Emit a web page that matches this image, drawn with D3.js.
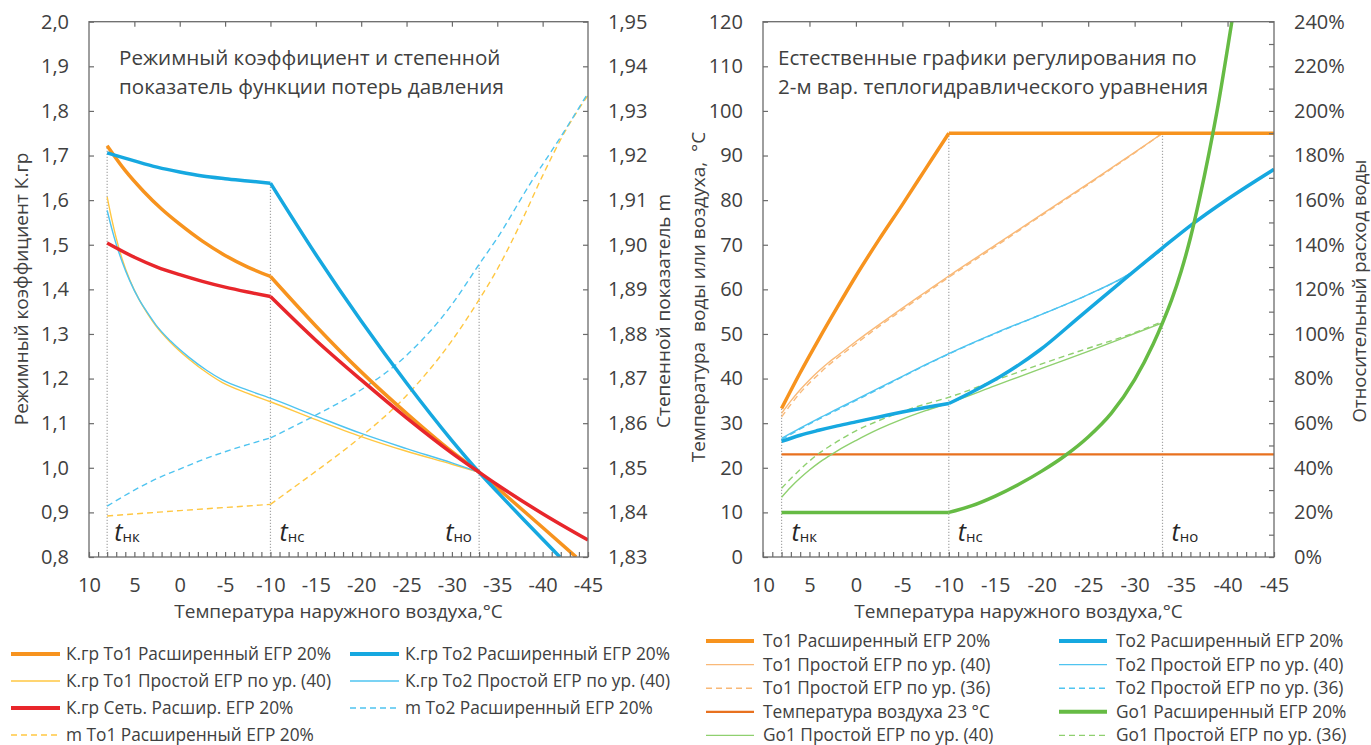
<!DOCTYPE html>
<html>
<head>
<meta charset="utf-8">
<script src="https://cdn.jsdelivr.net/npm/d3@7"></script>
<style>
    body { margin: 0; background: #fff; }
    text { font-family: "Open Sans", sans-serif; fill: #404040; }
</style>
</head>
<body>
<svg id="chart" width="1371" height="745"></svg>
<script>
// ---------- data: [наружная температура, значение] ----------
// левый график — режимный коэффициент К.гр (левая ось) и показатель m (правая ось)
const kgrTo1Ext = [[8, 1.722], [6, 1.666], [4, 1.620], [2, 1.580], [0, 1.546], [-2.5, 1.508], [-5, 1.476], [-7.5, 1.450], [-10, 1.429],
    [-15, 1.318], [-20, 1.215], [-25, 1.122], [-30, 1.036], [-33, 0.990], [-35, 0.955], [-40, 0.866], [-43.7, 0.800]]
const kgrTo2Ext = [[8, 1.706], [5, 1.688], [2.5, 1.674], [0, 1.663], [-2.5, 1.654], [-5, 1.648], [-7.5, 1.643], [-10, 1.638],
    [-15, 1.478], [-20, 1.329], [-25, 1.190], [-30, 1.061], [-33, 0.990], [-35, 0.946], [-38, 0.882], [-41.9, 0.800]]
const kgrTo1Simple = [[8, 1.607], [7.5, 1.558], [7, 1.515], [6.33, 1.467], [5.5, 1.421], [4.5, 1.378], [3.5, 1.344], [2.65, 1.319],
    [1, 1.281], [-1, 1.244], [-3, 1.213], [-4.7, 1.191], [-7.5, 1.167], [-10, 1.148], [-15, 1.108], [-20, 1.070], [-25, 1.037], [-30, 1.008], [-33, 0.990]]
const kgrTo2Simple = [[8, 1.577], [7.5, 1.537], [7, 1.501], [6.33, 1.461], [5.5, 1.419], [4.5, 1.378], [3.5, 1.346], [2.65, 1.321],
    [1, 1.284], [-1, 1.248], [-3, 1.218], [-4.7, 1.197], [-7.5, 1.174], [-10, 1.156], [-15, 1.116], [-20, 1.077], [-25, 1.043], [-30, 1.011], [-33, 0.990]]
const kgrNetExt = [[8, 1.504], [5, 1.472], [2.5, 1.450], [0, 1.433], [-2.5, 1.418], [-5, 1.405], [-7.5, 1.394], [-10, 1.384],
    [-15, 1.286], [-20, 1.197], [-25, 1.112], [-30, 1.033], [-33, 0.990], [-35, 0.962], [-40, 0.897], [-45, 0.838]]
const mTo2Ext = [[8, 1.8414], [5, 1.8450], [2.5, 1.8476], [0, 1.8497], [-2.5, 1.8518], [-5, 1.8536], [-7.5, 1.8552], [-10, 1.8567],
    [-15, 1.8618], [-20, 1.8675], [-25, 1.8752], [-30, 1.8866], [-33, 1.8956], [-35, 1.9015], [-38.6, 1.9136], [-42, 1.9242], [-45, 1.9340]]
const mTo1Ext = [[8, 1.8392], [4, 1.8398], [0, 1.8404], [-5, 1.8411], [-10, 1.8418],
    [-12.5, 1.8455], [-15, 1.8492], [-20, 1.8570], [-25, 1.8662], [-30, 1.8785], [-33, 1.8877], [-35, 1.8945], [-37.5, 1.9045], [-40, 1.9155], [-42.5, 1.9255], [-45, 1.9335]]

// правый график — температуры (левая ось, °C) и относительный расход (правая ось, %)
const to1Ext = [[8, 33.3], [6, 41.3], [4, 48.8], [2, 56.0], [0, 63.0], [-2.5, 71.2], [-5, 79.0], [-7.5, 87.0], [-10, 95.0], [-45, 95.0]]
const to1Simple40 = [[8, 32.2], [7, 35.0], [6, 37.5], [5, 39.7], [4, 41.7], [3, 43.5], [2, 45.1], [0, 48.3], [-2.5, 52.1], [-5, 55.8],
    [-7.5, 59.4], [-10, 63.0], [-15, 69.9], [-20, 76.8], [-25, 83.7], [-30, 90.7], [-33, 95.0]]
const to1Simple36 = [[8, 31.4], [7, 34.2], [6, 36.8], [5, 39.0], [4, 41.0], [3, 42.9], [2, 44.6], [0, 47.8], [-2.5, 51.7], [-5, 55.4],
    [-7.5, 59.1], [-10, 62.7], [-15, 69.6], [-20, 76.6], [-25, 83.5], [-30, 90.6], [-33, 95.0]]
const airTemp = [[8, 23], [-45, 23]]
const to2Ext = [[8, 25.9], [6, 27.3], [4, 28.4], [2, 29.4], [0, 30.3], [-2.5, 31.4], [-5, 32.5], [-7.5, 33.5], [-10, 34.4],
    [-12.5, 37.0], [-15.5, 40.4], [-19.8, 46.4], [-24.1, 53.9], [-28.4, 61.4], [-33, 69.3], [-36.4, 74.9], [-40, 80.2], [-45, 86.9]]
const to2Simple40 = [[8, 26.6], [6, 28.9], [4, 31.1], [2, 33.2], [0, 35.3], [-2.5, 37.9], [-5, 40.5], [-7.5, 43.1], [-10, 45.6],
    [-15, 50.2], [-20, 54.4], [-25, 58.8], [-30, 64.2], [-33, 69.0]]
const to2Simple36 = [[8, 26.3], [6, 28.7], [4, 30.9], [2, 33.0], [0, 35.1], [-2.5, 37.7], [-5, 40.4], [-7.5, 43.0], [-10, 45.5],
    [-15, 50.1], [-20, 54.4], [-25, 58.8], [-30, 64.2], [-33, 69.0]]
const go1Ext = [[8, 20], [-10, 20], [-12.5, 23], [-15, 27.3], [-17.5, 32.5], [-20, 38.5], [-22.5, 45.4], [-25, 53.8], [-27.5, 64.5],
    [-30, 79.5], [-32, 95.5], [-33, 105], [-34, 115.5], [-35, 128], [-36, 143], [-37, 161], [-38, 181], [-39, 203], [-40, 228], [-40.5, 241]]
const go1Simple40 = [[8, 26.8], [7, 31.4], [6, 35.4], [5, 39.0], [4, 42.2], [3, 45.0], [2, 47.6], [0, 52.2], [-2.5, 57.4], [-5, 61.8],
    [-7.5, 65.6], [-10, 69.0], [-15, 76.8], [-20, 84.6], [-25, 92.2], [-30, 100.2], [-33, 105.0]]
const go1Simple36 = [[8, 30.8], [7, 35.2], [6, 39.2], [5, 43.0], [4, 46.4], [3, 49.2], [2, 51.8], [0, 56.6], [-2.5, 61.2], [-5, 65.2],
    [-7.5, 68.6], [-10, 71.6], [-15, 79.2], [-20, 86.6], [-25, 93.6], [-30, 100.6], [-33, 105.6]]

// характерные температуры: t_нк, t_нс, t_но
const keyTemps = [8, -10, -33]
const keyLabels = ['нк', 'нс', 'но']
const xTickLabels = d3.range(10, -46, -5)

const svg = d3.select('#chart')

// разбиваем линию на участки в точках излома, чтобы сглаживание не скругляло изломы
function splitAt(points, breaks) {
    const segs = [[]]
    points.forEach(p => {
        segs[segs.length - 1].push(p)
        if (breaks.includes(p[0])) segs.push([p])
    })
    return segs.filter(s => s.length > 1)
}

function drawPanel(cfg) {
    const g = svg.append('g')

    const x = d3.scaleLinear().domain([10, -45]).range([cfg.left, cfg.right])
    const yL = d3.scaleLinear().domain(cfg.yLeft).range([cfg.bottom, cfg.top])
    const yR = d3.scaleLinear().domain(cfg.yRight).range([cfg.bottom, cfg.top])

    g.append('clipPath').attr('id', cfg.id + '-clip')
        .append('rect')
        .attr('x', cfg.left).attr('y', cfg.top)
        .attr('width', cfg.right - cfg.left).attr('height', cfg.bottom - cfg.top)

    // пунктирные вертикали t_нк, t_нс, t_но
    g.selectAll('.vline')
        .data(keyTemps)
        .join('line')
        .attr('class', 'vline')
        .attr('x1', d => x(d)).attr('x2', d => x(d))
        .attr('y1', cfg.bottom)
        .attr('y2', (d, i) => yL(cfg.vlineTops[i]))
        .attr('stroke', '#a6a6a6')
        .attr('stroke-width', 1.2)
        .attr('stroke-dasharray', '1.2,1.8')

    // линии
    const plot = g.append('g').attr('clip-path', `url(#${cfg.id}-clip)`)
    cfg.series.forEach(s => {
        const y = s.axis === 'R' ? yR : yL
        const line = d3.line()
            .x(d => x(d[0]))
            .y(d => y(d[1]))
            .curve(d3.curveMonotoneX)
        plot.selectAll(null)
            .data(splitAt(s.data, s.breaks || []))
            .join('path')
            .attr('d', line)
            .attr('fill', 'none')
            .attr('stroke', s.color)
            .attr('stroke-width', s.width)
            .attr('stroke-dasharray', s.dash || null)
            .attr('stroke-linejoin', 'round')
    })

    // подписи t с индексами
    const tl = g.selectAll('.tlabel')
        .data(keyTemps)
        .join('text')
        .attr('class', 'tlabel')
        .attr('x', (d, i) => x(d) + cfg.tLabelDx[i])
        .attr('y', 541)
    tl.append('tspan')
        .attr('font-style', 'italic')
        .attr('font-size', 25)
        .attr('fill', '#262626')
        .text('t')
    tl.append('tspan')
        .attr('font-size', 15)
        .attr('fill', '#262626')
        .attr('dy', 1)
        .text((d, i) => keyLabels[i])

    // рамка
    g.append('rect')
        .attr('x', cfg.left).attr('y', cfg.top)
        .attr('width', cfg.right - cfg.left).attr('height', cfg.bottom - cfg.top)
        .attr('fill', 'none')
        .attr('stroke', '#6b6b6b')
        .attr('stroke-width', 1.3)

    // оси
    const xAxis = g.append('g')
        .attr('transform', `translate(0,${cfg.bottom})`)
        .call(d3.axisBottom(x)
            .tickValues(d3.range(10, -46, -1))
            .tickSize(-5).tickSizeOuter(0).tickPadding(21)
            .tickFormat(d => xTickLabels.includes(d) ? String(d) : ''))
    const xTop = g.append('g')
        .attr('transform', `translate(0,${cfg.top})`)
        .call(d3.axisTop(x)
            .tickValues(xTickLabels.slice(1, -1))
            .tickSize(-5).tickSizeOuter(0)
            .tickFormat(''))
    const yAxisL = g.append('g')
        .attr('transform', `translate(${cfg.left},0)`)
        .call(d3.axisLeft(yL)
            .tickValues(cfg.yLeftTicks)
            .tickSize(-5).tickSizeOuter(0).tickPadding(20)
            .tickFormat(cfg.yLeftFormat))
    const yAxisR = g.append('g')
        .attr('transform', `translate(${cfg.right},0)`)
        .call(d3.axisRight(yR)
            .tickValues(cfg.yRightTicks)
            .tickSize(-5).tickSizeOuter(0).tickPadding(20)
            .tickFormat(cfg.yRightFormat))

    ;[xAxis, xTop, yAxisL, yAxisR].forEach(a => {
        a.select('.domain').remove()
        a.selectAll('line').attr('stroke', '#6b6b6b').attr('stroke-width', 1.2)
        a.selectAll('text')
            .attr('font-family', '"Open Sans", sans-serif')
            .attr('font-size', 20)
            .attr('fill', '#404040')
    })

    // заголовок внутри поля
    g.selectAll('.ptitle')
        .data(cfg.title)
        .join('text')
        .attr('class', 'ptitle')
        .attr('x', cfg.titleX)
        .attr('y', (d, i) => 65 + i * 28.5)
        .attr('font-size', 20.6)
        .text(d => d)

    // подписи осей
    g.append('text')
        .attr('x', (cfg.left + cfg.right) / 2)
        .attr('y', 618)
        .attr('text-anchor', 'middle')
        .attr('font-size', 19)
        .text('Температура наружного воздуха,°C')
    g.append('text')
        .attr('transform', `translate(${cfg.yLeftTitleX},${cfg.yLeftTitleY}) rotate(-90)`)
        .attr('text-anchor', 'middle')
        .attr('dy', '0.35em')
        .attr('font-size', 19)
        .attr('xml:space', 'preserve')
        .text(cfg.yLeftTitle)
    g.append('text')
        .attr('transform', `translate(${cfg.yRightTitleX},${cfg.yRightTitleY}) rotate(-90)`)
        .attr('text-anchor', 'middle')
        .attr('dy', '0.35em')
        .attr('font-size', cfg.yRightTitleSize)
        .text(cfg.yRightTitle)

    // легенда
    const leg = g.selectAll('.legend')
        .data(cfg.legendOrder)
        .join('g')
        .attr('class', 'legend')
        .attr('transform', (s, i) => `translate(${cfg.legendCols[i % 2]},${cfg.legendTop + Math.floor(i / 2) * cfg.legendStep})`)
    leg.append('line')
        .attr('x1', 0).attr('x2', cfg.legendLine)
        .attr('stroke', s => s.color)
        .attr('stroke-width', s => s.width > 3 ? 4 : s.width)
        .attr('stroke-dasharray', s => s.dash || null)
    leg.append('text')
        .attr('x', cfg.legendLine + cfg.legendGap)
        .attr('dy', '0.35em')
        .attr('font-size', 17.3)
        .text(s => s.label)
}

// ---------- стили серий ----------
const cOrange = '#f7931e', cBlue = '#16a8e0', cRed = '#e8262b'
const cYellowThin = '#ffc742', cBlueThin = '#4fc4f0'
const cOrangeThin = '#f9b978', cAir = '#e8711f'
const cGreen = '#66bb44', cGreenThin = '#8fd06f'

const sKTo1 = {data: kgrTo1Ext, axis: 'L', color: cOrange, width: 3.5, breaks: [-10], label: 'К.гр То1 Расширенный ЕГР 20%'}
const sKTo2 = {data: kgrTo2Ext, axis: 'L', color: cBlue, width: 3.5, breaks: [-10], label: 'К.гр То2 Расширенный ЕГР 20%'}
const sKTo1S = {data: kgrTo1Simple, axis: 'L', color: cYellowThin, width: 1.4, label: 'К.гр То1 Простой ЕГР по ур. (40)'}
const sKTo2S = {data: kgrTo2Simple, axis: 'L', color: cBlueThin, width: 1.4, label: 'К.гр То2 Простой ЕГР по ур. (40)'}
const sKNet = {data: kgrNetExt, axis: 'L', color: cRed, width: 3.5, breaks: [-10], label: 'К.гр Сеть. Расшир. ЕГР 20%'}
const sMTo2 = {data: mTo2Ext, axis: 'R', color: cBlueThin, width: 1.4, dash: '6,4', breaks: [-10], label: 'm То2 Расширенный ЕГР 20%'}
const sMTo1 = {data: mTo1Ext, axis: 'R', color: cYellowThin, width: 1.4, dash: '6,4', breaks: [-10], label: 'm То1 Расширенный ЕГР 20%'}

const sTo1 = {data: to1Ext, axis: 'L', color: cOrange, width: 3.5, breaks: [-10], label: 'То1 Расширенный ЕГР 20%'}
const sTo2 = {data: to2Ext, axis: 'L', color: cBlue, width: 3.5, breaks: [-10], label: 'То2 Расширенный ЕГР 20%'}
const sTo1S40 = {data: to1Simple40, axis: 'L', color: cOrangeThin, width: 1.4, label: 'То1 Простой ЕГР по ур. (40)'}
const sTo2S40 = {data: to2Simple40, axis: 'L', color: cBlueThin, width: 1.4, label: 'То2 Простой ЕГР по ур. (40)'}
const sTo1S36 = {data: to1Simple36, axis: 'L', color: cOrangeThin, width: 1.4, dash: '6,4', label: 'То1 Простой ЕГР по ур. (36)'}
const sTo2S36 = {data: to2Simple36, axis: 'L', color: cBlueThin, width: 1.4, dash: '6,4', label: 'То2 Простой ЕГР по ур. (36)'}
const sAir = {data: airTemp, axis: 'L', color: cAir, width: 2.2, label: 'Температура воздуха 23 °C'}
const sGo1 = {data: go1Ext, axis: 'R', color: cGreen, width: 3.5, breaks: [-10], label: 'Go1 Расширенный ЕГР 20%'}
const sGo1S40 = {data: go1Simple40, axis: 'R', color: cGreenThin, width: 1.4, label: 'Go1 Простой ЕГР по ур. (40)'}
const sGo1S36 = {data: go1Simple36, axis: 'R', color: cGreenThin, width: 1.4, dash: '6,4', label: 'Go1 Простой ЕГР по ур. (36)'}

const comma = (d, n) => d.toFixed(n).replace('.', ',')

drawPanel({
    id: 'left',
    left: 89, right: 588, top: 21.7, bottom: 557,
    yLeft: [0.8, 2.0], yRight: [1.83, 1.95],
    yLeftTicks: d3.range(8, 21).map(i => i / 10),
    yRightTicks: d3.range(183, 196).map(i => i / 100),
    yLeftFormat: d => comma(d, 1),
    yRightFormat: d => comma(d, 2),
    vlineTops: [1.722, 1.638, 1.455],
    tLabelDx: [7, 9, -34],
    series: [sKTo1S, sKTo2S, sMTo1, sMTo2, sKTo1, sKTo2, sKNet],
    legendOrder: [sKTo1, sKTo2, sKTo1S, sKTo2S, sKNet, sMTo2, sMTo1],
    legendCols: [11, 350], legendTop: 654, legendStep: 27, legendLine: 49, legendGap: 6,
    title: ['Режимный коэффициент и степенной', 'показатель функции потерь давления'],
    titleX: 119,
    yLeftTitle: 'Режимный коэффициент К.гр', yLeftTitleX: 21, yLeftTitleY: 289,
    yRightTitle: 'Степенной показатель m', yRightTitleX: 663, yRightTitleY: 311, yRightTitleSize: 19
})

drawPanel({
    id: 'right',
    left: 763, right: 1274, top: 21.7, bottom: 557,
    yLeft: [0, 120], yRight: [0, 240],
    yLeftTicks: d3.range(0, 121, 10),
    yRightTicks: d3.range(0, 241, 10),
    yLeftFormat: d => String(d),
    yRightFormat: d => d % 20 === 0 ? d + '%' : '',
    vlineTops: [33.3, 95, 95],
    tLabelDx: [10, 9, 9],
    series: [sAir, sGo1S40, sGo1S36, sTo2S40, sTo2S36, sTo1S40, sTo1S36, sTo2, sTo1, sGo1],
    legendOrder: [sTo1, sTo2, sTo1S40, sTo2S40, sTo1S36, sTo2S36, sAir, sGo1, sGo1S40, sGo1S36],
    legendCols: [706, 1059], legendTop: 641, legendStep: 23.6, legendLine: 48, legendGap: 9,
    title: ['Естественные графики регулирования по', '2-м вар. теплогидравлического уравнения'],
    titleX: 778,
    yLeftTitle: 'Температура  воды или воздуха,  °C', yLeftTitleX: 698, yLeftTitleY: 297,
    yRightTitle: 'Относительный расход воды', yRightTitleX: 1360, yRightTitleY: 291, yRightTitleSize: 18.5
})
</script>
</body>
</html>
